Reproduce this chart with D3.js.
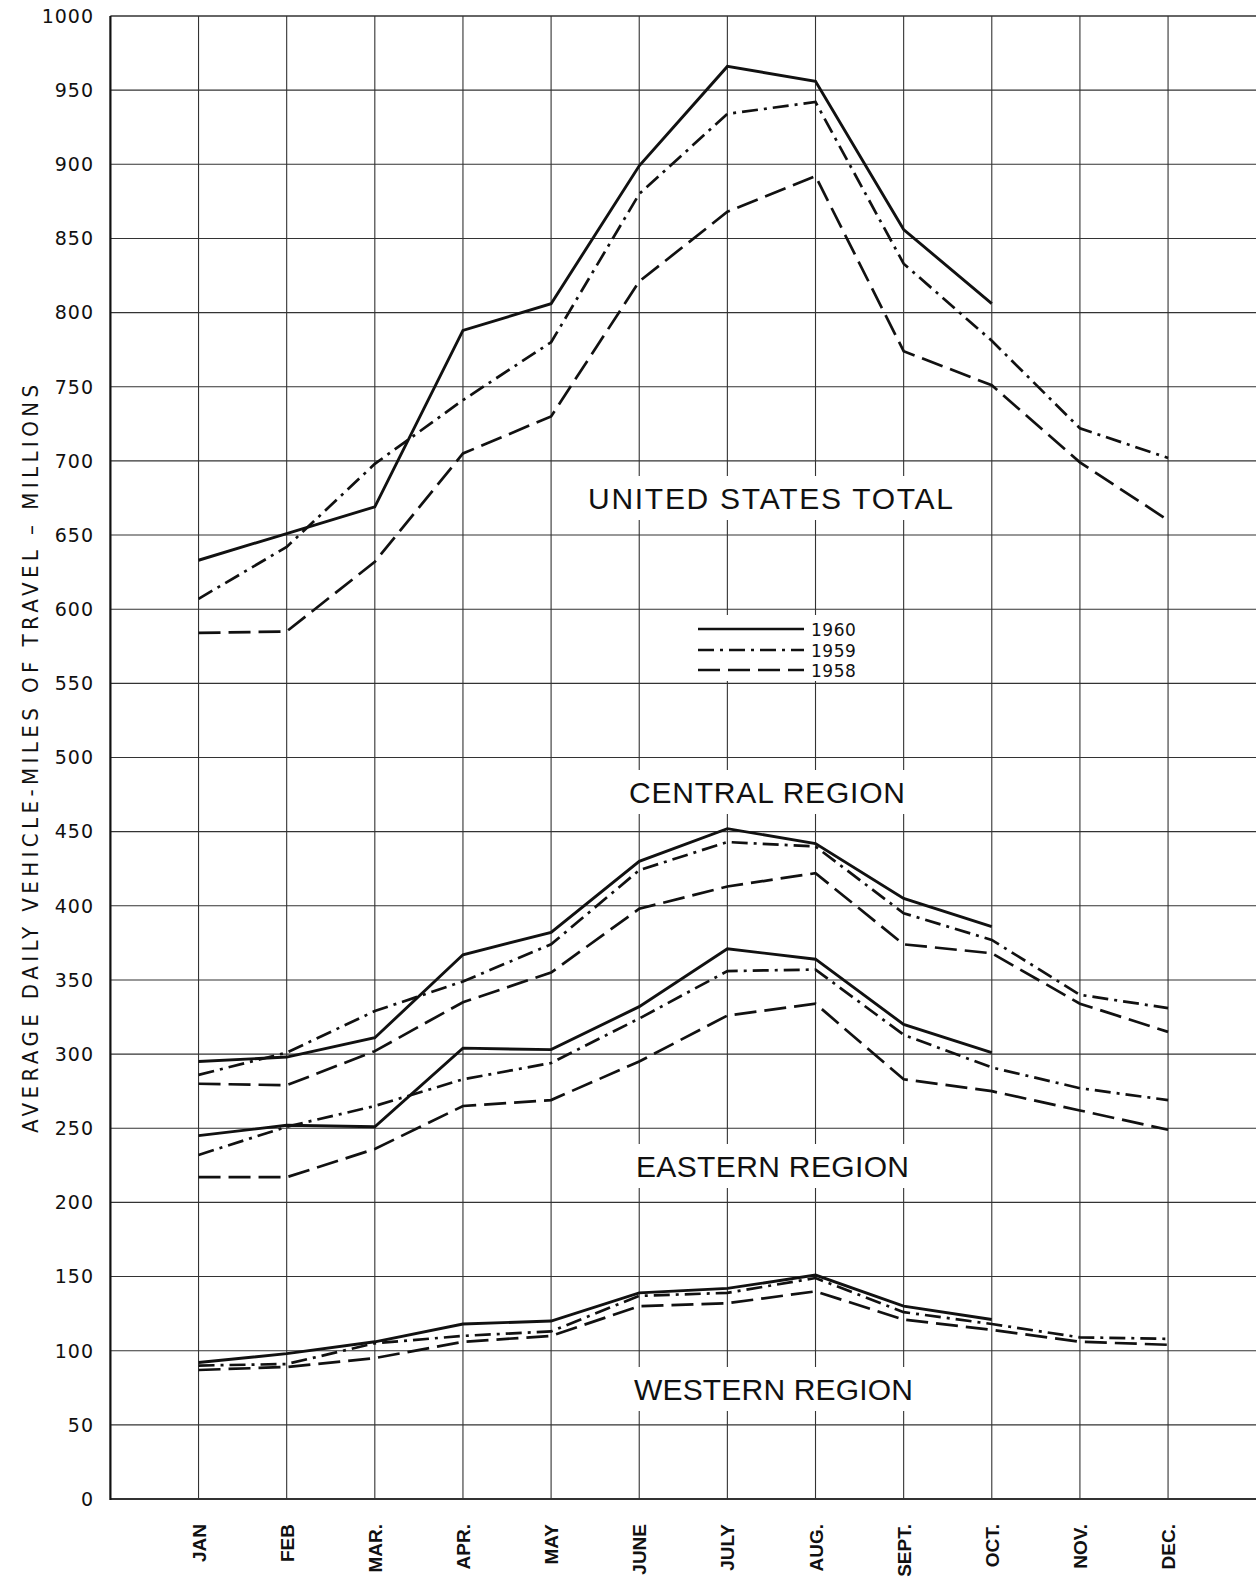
<!DOCTYPE html>
<html>
<head>
<meta charset="utf-8">
<script src="https://cdn.jsdelivr.net/npm/d3@7"></script>
<style>
  html, body { margin: 0; padding: 0; background: #fff; }
  svg { display: block; }
</style>
</head>
<body>
<svg id="chart" width="1256" height="1581"></svg>
<script>
// ---- data ----
const months = ["JAN","FEB","MAR.","APR.","MAY","JUNE","JULY","AUG.","SEPT.","OCT.","NOV.","DEC."];
const yTicks = [0,50,100,150,200,250,300,350,400,450,500,550,600,650,700,750,800,850,900,950,1000];
const years = ["1960","1959","1958"];

const us1960 = [633, 651, 669, 788, 806, 899, 966, 956, 856, 806];
const us1959 = [607, 642, 698, 741, 780, 880, 934, 942, 833, 781, 722, 702];
const us1958 = [584, 585, 632, 705, 730, 821, 868, 892, 774, 751, 699, 660];

const central1960 = [295, 298, 311, 367, 382, 430, 452, 442, 405, 386];
const central1959 = [286, 301, 329, 349, 374, 424, 443, 440, 395, 377, 340, 331];
const central1958 = [280, 279, 302, 335, 355, 398, 413, 422, 374, 368, 334, 315];

const eastern1960 = [245, 252, 251, 304, 303, 332, 371, 364, 320, 301];
const eastern1959 = [232, 251, 265, 283, 294, 324, 356, 357, 313, 291, 277, 269];
const eastern1958 = [217, 217, 236, 265, 269, 295, 326, 334, 283, 275, 262, 249];

const western1960 = [92, 98, 106, 118, 120, 139, 142, 151, 130, 121];
const western1959 = [90, 91, 105, 110, 113, 137, 139, 149, 126, 118, 109, 108];
const western1958 = [87, 89, 95, 106, 110, 130, 132, 140, 121, 114, 106, 104];

const regionLabels = ["UNITED STATES TOTAL","CENTRAL REGION","EASTERN REGION","WESTERN REGION"];
const yTitle = "AVERAGE DAILY VEHICLE-MILES OF TRAVEL \u2013 MILLIONS";

// ---- build ----
const series = [
  {year:"1960", vals: us1960}, {year:"1959", vals: us1959}, {year:"1958", vals: us1958},
  {year:"1960", vals: central1960}, {year:"1959", vals: central1959}, {year:"1958", vals: central1958},
  {year:"1960", vals: eastern1960}, {year:"1959", vals: eastern1959}, {year:"1958", vals: eastern1958},
  {year:"1960", vals: western1960}, {year:"1959", vals: western1959}, {year:"1958", vals: western1958}
];

const styleFor = {
  "1960": {dash: null, w: 2.9},
  "1959": {dash: "16,6,3,6", w: 2.7},
  "1958": {dash: "22,8", w: 2.7}
};

const svg = d3.select("#chart");
const x = d3.scaleLinear().domain([0, 13]).range([110.4, 1256.2]);
const y = d3.scaleLinear().domain([0, 1000]).range([1499, 16]);

svg.append("rect").attr("width",1256).attr("height",1581).attr("fill","#fff");

const grid = svg.append("g");
grid.selectAll("line.h").data(yTicks).join("line")
  .attr("x1", x(0)).attr("x2", 1256)
  .attr("y1", d => y(d)).attr("y2", d => y(d))
  .attr("stroke", "#333").attr("stroke-width", d => (d === 0 ? 2.2 : (d === 1000 ? 1.6 : 1.1)));
grid.selectAll("line.v").data(months).join("line")
  .attr("x1", (d,i) => x(i+1)).attr("x2", (d,i) => x(i+1))
  .attr("y1", y(1000)).attr("y2", y(0))
  .attr("stroke", "#333").attr("stroke-width", 1.1);
grid.append("line")
  .attr("x1", x(0)).attr("x2", x(0)).attr("y1", y(1000)).attr("y2", y(0)+1)
  .attr("stroke", "#111").attr("stroke-width", 2.2);

// y tick labels
svg.append("g").selectAll("text").data(yTicks).join("text")
  .attr("x", 94).attr("y", d => y(d)).attr("dy", "0.36em")
  .attr("text-anchor", "end")
  .attr("font-family", "DejaVu Sans, sans-serif").attr("font-size", 19)
  .attr("letter-spacing", 1)
  .attr("fill", "#111")
  .text(d => d);

// month labels (rotated)
svg.append("g").selectAll("text").data(months).join("text")
  .attr("transform", (d,i) => `translate(${x(i+1)+7},1524) rotate(-90)`)
  .attr("text-anchor", "end")
  .attr("font-family", "Liberation Sans, Arial, sans-serif").attr("font-size", 19)
  .attr("font-weight", "bold")
  .attr("fill", "#111")
  .text(d => d);

// y axis title
svg.append("text")
  .attr("transform", `translate(38,759) rotate(-90)`)
  .attr("text-anchor", "middle")
  .attr("font-family", "Liberation Sans Narrow, DejaVu Sans Condensed, Arial, sans-serif").attr("font-size", 22)
  .attr("textLength", 748).attr("lengthAdjust", "spacing")
  .attr("fill", "#111")
  .text(yTitle);

// region labels with white backing
const labelPos = [
  {x0: 588, x1: 953, cy: 498},
  {x0: 629, x1: 905, cy: 792},
  {x0: 636, x1: 909, cy: 1166},
  {x0: 634, x1: 913, cy: 1389}
];
const lg = svg.append("g");
regionLabels.forEach((t, i) => {
  const p = labelPos[i];
  lg.append("rect").attr("x", p.x0 - 8).attr("y", p.cy - 22)
    .attr("width", p.x1 - p.x0 + 16).attr("height", 44).attr("fill", "#fff");
  lg.append("text").attr("x", p.x0).attr("y", p.cy + 11)
    .attr("font-family", "Liberation Sans, Arial, sans-serif").attr("font-size", 30)
    .attr("textLength", p.x1 - p.x0).attr("lengthAdjust", "spacing")
    .attr("fill", "#111").text(t);
});

// series lines
const line = d3.line().x((d,i) => x(i+1)).y(d => y(d)).curve(d3.curveLinear);
svg.append("g").selectAll("path").data(series).join("path")
  .attr("d", d => line(d.vals))
  .attr("fill", "none").attr("stroke", "#111")
  .attr("stroke-width", d => styleFor[d.year].w)
  .attr("stroke-dasharray", d => styleFor[d.year].dash)
  .attr("stroke-linejoin", "miter");

// legend
const leg = svg.append("g");
leg.append("rect").attr("x", 690).attr("y", 615).attr("width", 174).attr("height", 66).attr("fill", "#fff");
const legY = [629, 650, 670];
years.forEach((yr, i) => {
  leg.append("line").attr("x1", 698).attr("x2", 804).attr("y1", legY[i]).attr("y2", legY[i])
    .attr("stroke", "#111").attr("stroke-width", 2.4)
    .attr("stroke-dasharray", styleFor[yr].dash);
  leg.append("text").attr("x", 811).attr("y", legY[i] + 6.5)
    .attr("font-family", "DejaVu Sans, sans-serif").attr("font-size", 17)
    .attr("letter-spacing", 0.5)
    .attr("fill", "#111").text(yr);
});
</script>
</body>
</html>
